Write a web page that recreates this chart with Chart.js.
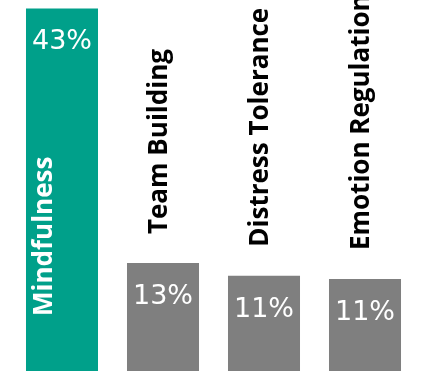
<!DOCTYPE html>
<html>
<head>
<meta charset="utf-8">
<script src="https://cdn.jsdelivr.net/npm/chart.js@4"></script>
<style>
  html, body { margin: 0; padding: 0; background: #ffffff; }
  #wrap { width: 427px; height: 371px; position: relative; }
</style>
</head>
<body>
<div id="wrap"><canvas id="skillsBarChart"></canvas></div>
<script>
const categories = ['Mindfulness', 'Team Building', 'Distress Tolerance', 'Emotion Regulation']
const shares = [43, 12.8, 11.3, 10.9]
const barColors = ['#00a08a', '#7f7f7f', '#7f7f7f', '#7f7f7f']

// draws the rotated category names and the percent labels
const barLabels = {
    id: 'barLabels',
    afterDatasetsDraw(chart) {
        const ctx = chart.ctx
        const meta = chart.getDatasetMeta(0)
        const bottom = chart.chartArea.bottom

        meta.data.forEach((bar, i) => {
            ctx.save()
            ctx.fillStyle = '#ffffff'
            ctx.font = '27px "DejaVu Sans"'
            ctx.textAlign = 'center'
            ctx.textBaseline = 'alphabetic'
            ctx.fillText(`${Math.round(shares[i])}%`, bar.x, bar.y + 41)
            ctx.restore()

            const inside = i === 0
            ctx.save()
            ctx.font = 'bold 26px "Open Sans"'
            ctx.fillStyle = inside ? '#ffffff' : '#000000'
            ctx.textAlign = 'left'
            ctx.textBaseline = 'alphabetic'
            const startY = inside ? bottom - 55 : bar.y - 29
            const baseX = inside ? bar.x - 10 : bar.x + 4
            ctx.translate(baseX, startY)
            ctx.rotate(-Math.PI / 2)
            ctx.fillText(categories[i], 0, 0)
            ctx.restore()
        })
    }
}

const ctx = document.getElementById('skillsBarChart').getContext('2d')

new Chart(ctx, {
    type: 'bar',
    data: {
        labels: categories,
        datasets: [{
            data: shares,
            backgroundColor: barColors,
            borderWidth: 0,
            barPercentage: 1,
            categoryPercentage: 0.713
        }]
    },
    options: {
        responsive: true,
        maintainAspectRatio: false,
        animation: false,
        layout: {
            padding: {left: 11.5, right: 11.5, top: 0, bottom: 0}
        },
        scales: {
            x: {display: false},
            y: {display: false, min: 0, max: 44}
        },
        plugins: {
            legend: {display: false},
            tooltip: {enabled: false}
        }
    },
    plugins: [barLabels]
})
</script>
</body>
</html>
